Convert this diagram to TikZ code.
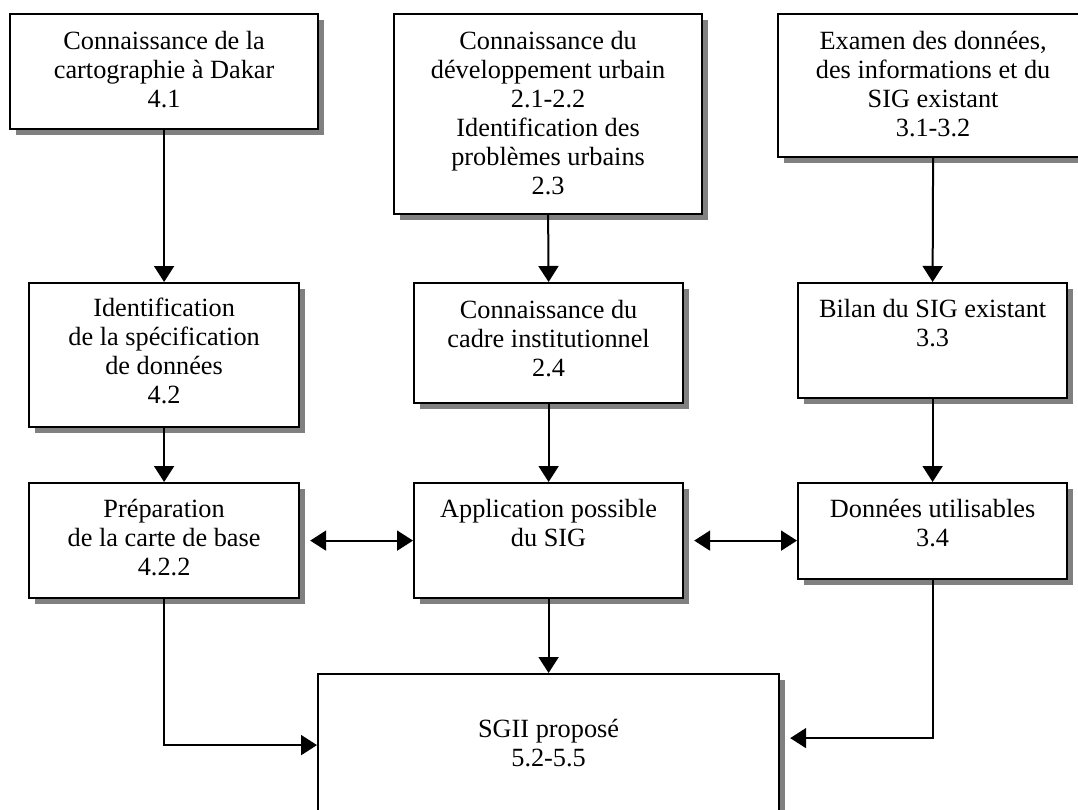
\documentclass[tikz,border=0pt]{standalone}
\usepackage{fontspec}
\setmainfont{Liberation Serif}
\usetikzlibrary{arrows.meta, positioning, shadows}
\definecolor{grisOmbre}{HTML}{808080}

\begin{document}
\begin{tikzpicture}[x=1pt, y=-1pt, font=\fontsize{26.3}{29}\selectfont,
        >={Triangle[length=16pt, width=20pt]},
        etape/.style={draw, line width=2.2pt, fill=white, anchor=north west, inner sep=0pt,
            drop shadow={shadow xshift=6pt, shadow yshift=-6pt, fill=grisOmbre, opacity=1}},
        texte/.style={align=center, inner sep=0pt},
        fleche/.style={->, line width=2pt},
        flechedouble/.style={<->, line width=2pt, shorten <=10pt}]
        \useasboundingbox (0,0) rectangle (1078,810);
        % premiere rangee
        \node[etape, minimum width=308pt, minimum height=115pt] (a1) at (9,13) {};
        \node[texte, below=18pt of a1.north] (ta1) {Connaissance de la\\cartographie à Dakar\\4.1};
        \node[etape, minimum width=308pt, minimum height=200pt] (b1) at (393,13) {};
        \node[texte, below=18pt of b1.north] (tb1) {Connaissance du\\développement urbain\\2.1-2.2\\Identification des\\problèmes urbains\\2.3};
        \node[etape, minimum width=310pt, minimum height=143pt] (c1) at (777,13) {};
        \node[texte, below=18pt of c1.north] (tc1) {Examen des données,\\des informations et du\\SIG existant\\3.1-3.2};
        % deuxieme rangee
        \node[etape, minimum width=270pt, minimum height=144pt] (a2) at (28,282) {};
        \node[texte, below=16pt of a2.north] (ta2) {Identification\\de la spécification\\de données\\4.2};
        \node[etape, minimum width=269pt, minimum height=120pt] (b2) at (413,282) {};
        \node[texte, below=18pt of b2.north] (tb2) {Connaissance du\\cadre institutionnel\\2.4};
        \node[etape, minimum width=269pt, minimum height=115pt] (c2) at (797,282) {};
        \node[texte, below=17pt of c2.north] (tc2) {Bilan du SIG existant\\3.3};
        % troisieme rangee
        \node[etape, minimum width=270pt, minimum height=115pt] (a3) at (28,482) {};
        \node[texte, below=17pt of a3.north] (ta3) {Préparation\\de la carte de base\\4.2.2};
        \node[etape, minimum width=269pt, minimum height=115pt] (b3) at (413,482) {};
        \node[texte, below=17pt of b3.north] (tb3) {Application possible\\du SIG};
        \node[etape, minimum width=269pt, minimum height=96pt] (c3) at (797,482) {};
        \node[texte, below=17pt of c3.north] (tc3) {Données utilisables\\3.4};
        % SGII
        \node[etape, minimum width=461pt, minimum height=142pt] (d) at (317,673) {};
        \node[texte, below=46pt of d.north] (td) {SGII proposé\\5.2-5.5};
        % liaisons
        \draw[fleche] (a1.south) -- (a2.north);
        \draw[fleche] (a2.south) -- (a3.north);
        \draw[fleche] (b1.south) -- (b2.north);
        \draw[fleche] (b2.south) -- (b3.north);
        \draw[fleche] (c1.south) -- (c2.north);
        \draw[fleche] (c2.south) -- (c3.north);
        \draw[flechedouble] (a3.east) -- (b3.west);
        \draw[flechedouble] (b3.east) -- (b3.east -| c3.west);
        \draw[fleche] (b3.south) -- (d.north);
        \draw[fleche] (a3.south) |- (d.west);
        \draw[fleche, shorten >=10pt] (c3.south) |- ([yshift=7pt]d.east);
\end{tikzpicture}
\end{document}
